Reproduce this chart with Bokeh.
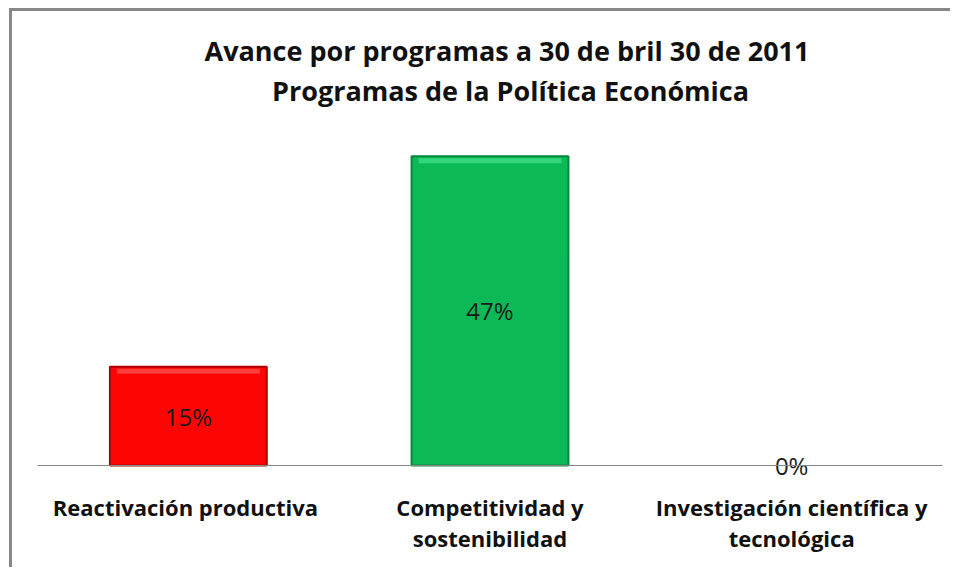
from bokeh.plotting import figure
from bokeh.models import FixedTicker, Range1d, Label, ColumnDataSource
from bokeh.core.properties import value
from bokeh.embed import file_html
from bokeh.resources import INLINE

categories = ["Reactivación  productiva", "Competitividad y\nsostenibilidad", "Investigación científica y\ntecnológica"]
values = [15, 47, 0]
value_labels = ["15%", "47%", "0%"]
bar_colors = ["#FE0505", "#0BBA56"]
bar_lines = ["#B00000", "#07863C"]
bar_highlights = ["#FF4A4A", "#3FDC86"]
title_lines = ["Avance  por programas a 30 de bril 30 de 2011", "Programas de la Política Económica"]

# layout (pixels)
W, H = 950, 567
frame_left_px, frame_right_px = 37, 942   # category area within the figure
axis_px = 465
px_per_cat = (frame_right_px - frame_left_px) / 3
x0 = -frame_left_px / px_per_cat
x1 = 3 + (W - frame_right_px) / px_per_cat
px_per_unit = 6.58
y1 = axis_px / px_per_unit
y0 = -(H - axis_px) / px_per_unit

xs = [i + 0.5 for i in range(len(categories))]
src = ColumnDataSource(dict(x=xs, mid=[v / 2 for v in values], lab=value_labels))

p = figure(width=W, height=H, output_backend="svg", toolbar_location=None,
           x_range=Range1d(x0, x1), y_range=Range1d(y0, y1),
           min_border_left=0, min_border_right=0, min_border_top=0, min_border_bottom=0)
p.outline_line_color = None
p.background_fill_color = "white"
p.border_fill_color = "white"
p.xgrid.visible = False
p.ygrid.visible = False
p.yaxis.visible = False

# chart-area frame (top and left edges visible)
lx = x0 + 10 / px_per_cat
ty = y1 - 9 / px_per_unit
p.segment(x0=[lx, lx - 1.5 / px_per_cat], y0=[y0, ty], x1=[lx, x1], y1=[ty, ty],
          line_color="#888888", line_width=3)

nb = len(bar_colors)
src_bars = ColumnDataSource(dict(x=xs[:nb], top=values[:nb], fill=bar_colors, line=bar_lines,
                                 hl=bar_highlights,
                                 hl_top=[v - 2 / px_per_unit for v in values[:nb]],
                                 hl_bot=[v - 7 / px_per_unit for v in values[:nb]]))
p.vbar(x="x", top="top", bottom=0, width=0.52, fill_color="fill", line_color="line",
       line_width=2, source=src_bars)
p.vbar(x="x", top="hl_top", bottom="hl_bot", width=0.52 - 14 / px_per_cat, fill_color="hl",
       line_color=None, fill_alpha=0.8, source=src_bars)

p.text(x="x", y="mid", text="lab", source=src, text_align="center", text_baseline="middle",
       text_font=value("Open Sans"), text_font_size="24px", text_color="#1a1a1a")

ax = p.xaxis[0]
ax.fixed_location = 0
ax.bounds = (0, 3)
ax.ticker = FixedTicker(ticks=xs)
ax.major_label_overrides = {x: c for x, c in zip(xs, categories)}
ax.major_tick_line_color = None
ax.minor_tick_line_color = None
ax.axis_line_color = "#888888"
ax.axis_line_width = 1
ax.major_label_text_font = "Open Sans"
ax.major_label_text_font_style = "bold"
ax.major_label_text_font_size = "22px"
ax.major_label_text_line_height = 1.05
ax.major_label_text_color = "#111111"
ax.major_label_standoff = 20

for t, y in zip(title_lines, [63.0, 57.0]):
    p.add_layout(Label(x=1.568, y=y, text=t, text_align="center", text_baseline="middle",
                       text_font="Open Sans", text_font_size="27px", text_font_style="bold",
                       text_color="#111111"))

open("out.html", "w").write(file_html(p, INLINE))
